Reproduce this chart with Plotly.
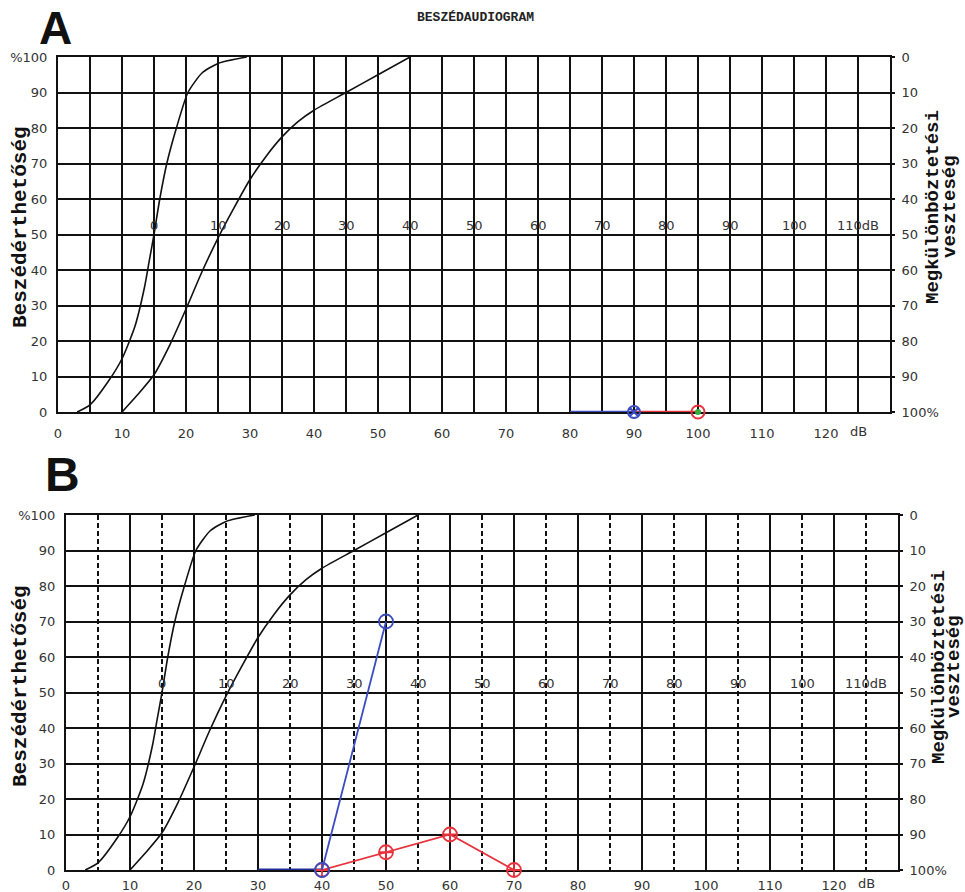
import plotly.graph_objects as go

W, H = 965, 892


def px(xp):
    return xp / W


def py(yp):
    return 1 - yp / H


# ---- data ----
szam_x = [3, 5, 8, 10, 12, 13.5, 14.3, 15, 15.9, 17, 18.5, 20.3, 22.5, 25, 29.5]
szam_y = [0, 2, 9, 15, 24, 35, 43, 50, 60, 70, 80, 90, 95.5, 98.2, 100]
szo_x = [10, 12.5, 15, 17.5, 20, 22.5, 25, 27.5, 30, 32.5, 35, 37.5, 40, 45, 50, 55]
szo_y = [0, 5, 10.5, 19, 29, 39.5, 49, 57.5, 65.5, 72, 77.5, 81.8, 85, 90, 95, 100]

a_blue_x = [80, 90]
a_blue_y = [0, 0]
a_red_x = [90, 100]
a_red_y = [0, 0]

b_base_x = [30, 40]
b_base_y = [0, 0]
b_blue_x = [40, 50]
b_blue_y = [0, 70]
b_red_x = [40, 50, 60, 70]
b_red_y = [0, 5, 10, 0]

x_ticks = list(range(0, 121, 10))
x_minor = list(range(5, 130, 10))
y_ticks = list(range(0, 101, 10))
y_left_text = ["0", "10", "20", "30", "40", "50", "60", "70", "80", "90", "%100"]
y_right_text = ["100%", "90", "80", "70", "60", "50", "40", "30", "20", "10", "0"]
mid_x = list(range(15, 126, 10))
mid_text = ["0", "10", "20", "30", "40", "50", "60", "70", "80", "90", "100", "110dB"]

BLACK = "#111111"
BLUE = "#3b4cc0"
NAVY = "#1f2f9a"
RED = "#e8323c"
TICKFONT = dict(family="DejaVu Sans", size=13, color="#333333")
MONO = "Liberation Mono"

fig = go.Figure()

panels = [
    dict(x="x", y="y", yr="y3", xdom=[px(58), px(890)], ydom=[py(412), py(57)], dashed=False,
         standoff=8, dbshift=-10),
    dict(x="x2", y="y2", yr="y4", xdom=[px(66), px(898)], ydom=[py(870), py(515)], dashed=True,
         standoff=2, dbshift=-4),
]

for p in panels:
    fig.add_trace(go.Scatter(x=[None], y=[None], xaxis=p["x"], yaxis=p["yr"], showlegend=False))
    for cx, cy in ((szam_x, szam_y), (szo_x, szo_y)):
        fig.add_trace(go.Scatter(x=cx, y=cy, xaxis=p["x"], yaxis=p["y"], mode="lines",
                                 line=dict(color=BLACK, width=1.6, shape="spline", smoothing=0.6),
                                 hoverinfo="skip", showlegend=False))

# Panel A data
fig.add_trace(go.Scatter(x=a_blue_x, y=a_blue_y, xaxis="x", yaxis="y", mode="lines",
                         line=dict(color=BLUE, width=2.6), cliponaxis=False, showlegend=False))
fig.add_trace(go.Scatter(x=a_red_x, y=a_red_y, xaxis="x", yaxis="y", mode="lines",
                         line=dict(color=RED, width=2.6), cliponaxis=False, showlegend=False))
fig.add_trace(go.Scatter(x=a_blue_x[-1:], y=a_blue_y[-1:], xaxis="x", yaxis="y", mode="markers",
                         marker=dict(symbol="circle-x-open", size=12, color=BLUE, line=dict(width=2)),
                         cliponaxis=False, showlegend=False))
fig.add_trace(go.Scatter(x=a_red_x[-1:], y=a_red_y[-1:], xaxis="x", yaxis="y", mode="markers",
                         marker=dict(symbol="circle", size=6, color="#2fae3a"),
                         cliponaxis=False, showlegend=False))
fig.add_trace(go.Scatter(x=a_red_x[-1:], y=a_red_y[-1:], xaxis="x", yaxis="y", mode="markers",
                         marker=dict(symbol="circle-open", size=13, color=RED, line=dict(width=2)),
                         cliponaxis=False, showlegend=False))

# Panel B data
fig.add_trace(go.Scatter(x=b_base_x, y=b_base_y, xaxis="x2", yaxis="y2", mode="lines",
                         line=dict(color=NAVY, width=3), cliponaxis=False, showlegend=False))
fig.add_trace(go.Scatter(x=b_red_x, y=b_red_y, xaxis="x2", yaxis="y2", mode="lines+markers",
                         line=dict(color=RED, width=1.8),
                         marker=dict(symbol="circle-cross-open", size=14, color=RED, line=dict(width=1.8)),
                         cliponaxis=False, showlegend=False))
fig.add_trace(go.Scatter(x=b_blue_x, y=b_blue_y, xaxis="x2", yaxis="y2", mode="lines+markers",
                         line=dict(color=BLUE, width=1.8),
                         marker=dict(symbol="circle-open", size=14, color=BLUE, line=dict(width=1.8)),
                         cliponaxis=False, showlegend=False))


def xcfg(dom, anchor, dashed, standoff):
    return dict(domain=dom, anchor=anchor, range=[0, 130], tickmode="array", tickvals=x_ticks,
                ticktext=[str(v) for v in x_ticks], showgrid=True, gridcolor=BLACK, gridwidth=1.5,
                minor=dict(tickvals=x_minor, showgrid=True, gridcolor=BLACK, gridwidth=1.5,
                           griddash="5px,3px" if dashed else "solid", ticks=""),
                showline=True, linecolor=BLACK, linewidth=2, mirror=True, ticks="", layer="below traces",
                ticklabelstandoff=standoff, tickfont=TICKFONT, zeroline=False, automargin=False,
                fixedrange=True)


def ylcfg(dom, anchor):
    return dict(domain=dom, anchor=anchor, range=[0, 100], tickmode="array", tickvals=y_ticks,
                ticktext=y_left_text, showgrid=True, gridcolor=BLACK, gridwidth=1.5,
                showline=True, linecolor=BLACK, linewidth=2, mirror=True, ticks="", layer="below traces",
                ticklabelstandoff=6, tickfont=TICKFONT, zeroline=False, automargin=False, fixedrange=True)


def yrcfg(overlay, anchor):
    return dict(overlaying=overlay, anchor=anchor, side="right", range=[0, 100], tickmode="array",
                tickvals=y_ticks, ticktext=y_right_text, showgrid=False, showline=False,
                ticks="outside", ticklen=4, tickcolor=BLACK, tickwidth=1.5, ticklabelstandoff=4,
                tickfont=TICKFONT, zeroline=False, automargin=False, fixedrange=True, layer="below traces")


fig.update_layout(
    width=W, height=H, autosize=False, template="none",
    margin=dict(l=0, r=0, t=0, b=0),
    paper_bgcolor="white", plot_bgcolor="white", showlegend=False,
    xaxis=xcfg(panels[0]["xdom"], "y", False, panels[0]["standoff"]),
    yaxis=ylcfg(panels[0]["ydom"], "x"),
    yaxis3=yrcfg("y", "x"),
    xaxis2=xcfg(panels[1]["xdom"], "y2", True, panels[1]["standoff"]),
    yaxis2=ylcfg(panels[1]["ydom"], "x2"),
    yaxis4=yrcfg("y2", "x2"),
)

SMALLMONO = dict(family=MONO, size=15, color="#222")
ann = []
for p in panels:
    xr, yr = p["x"], p["y"]
    for xv, t in zip(mid_x, mid_text):
        ann.append(dict(x=xv, y=50, xref=xr, yref=yr, text=t, showarrow=False, xanchor="center",
                        yanchor="bottom", font=TICKFONT))
    ann.append(dict(x=125, y=0, xref=xr, yref=yr, text="dB", showarrow=False, xanchor="center",
                    yanchor="top", yshift=p["dbshift"], font=TICKFONT))
    ann.append(dict(x=17.3, y=108, xref=xr, yref=yr, text="Számteszt", showarrow=False,
                    xanchor="center", yanchor="middle", font=SMALLMONO))
    ann.append(dict(x=22.8, y=103.8, xref=xr, yref=yr, text="norm", showarrow=False,
                    xanchor="center", yanchor="middle", font=SMALLMONO))
    ann.append(dict(x=33.6, y=108, xref=xr, yref=yr, text="Szóteszt", showarrow=False,
                    xanchor="center", yanchor="middle", font=SMALLMONO))
    ann.append(dict(x=42.8, y=103.8, xref=xr, yref=yr, text="norm", showarrow=False,
                    xanchor="center", yanchor="middle", font=SMALLMONO))
    for xv in (15, 35):
        ann.append(dict(x=xv, y=101.5, xref=xr, yref=yr, text="", showarrow=True, arrowhead=2,
                        arrowsize=1, arrowwidth=1.3, arrowcolor="#222", ax=0, ay=-16))

TITLEFONT = dict(family=MONO, size=21, color="#111")
RTITLEFONT = dict(family=MONO, size=19, color="#111")
for yc in (227, 686):
    ann.append(dict(x=px(20), y=py(yc), xref="paper", yref="paper", text="<b>Beszédérthetőség</b>",
                    textangle=-90, showarrow=False, xanchor="center", yanchor="middle", font=TITLEFONT))
for x1, x2, yc in ((933, 950, 207), (939, 954, 667)):
    ann.append(dict(x=px(x1), y=py(yc), xref="paper", yref="paper", text="<b>Megkülönböztetési</b>",
                    textangle=-90, showarrow=False, xanchor="center", yanchor="middle", font=RTITLEFONT))
    ann.append(dict(x=px(x2), y=py(yc), xref="paper", yref="paper", text="<b>veszteség</b>",
                    textangle=-90, showarrow=False, xanchor="center", yanchor="middle", font=RTITLEFONT))

ann.append(dict(x=px(475), y=py(17), xref="paper", yref="paper", text="<b>BESZÉDAUDIOGRAM</b>",
                showarrow=False, xanchor="center", yanchor="middle",
                font=dict(family=MONO, size=13, color="#222")))
ann.append(dict(x=px(55), y=py(28), xref="paper", yref="paper", text="<b>A</b>", showarrow=False,
                xanchor="center", yanchor="middle", font=dict(family="Liberation Sans", size=46, color="#111")))
ann.append(dict(x=px(62), y=py(474), xref="paper", yref="paper", text="<b>B</b>", showarrow=False,
                xanchor="center", yanchor="middle", font=dict(family="Liberation Sans", size=48, color="#111")))

fig.update_layout(annotations=ann)

# remove the page's default body margin so the figure fills the window exactly
fig.write_html("out.html", config={"displayModeBar": False},
               post_script="document.body.style.margin='0';"
                           "document.documentElement.style.overflow='hidden';"
                           "document.body.style.overflow='hidden';")
